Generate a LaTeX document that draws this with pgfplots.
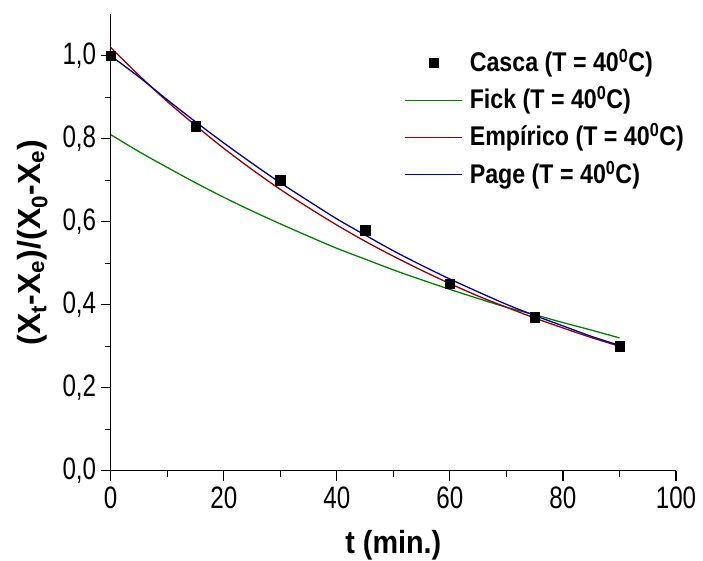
\documentclass[border=0pt]{standalone}
\usepackage{fontspec}
\setmainfont{Liberation Sans}
\newfontfamily\tickfont{Liberation Sans}[FakeStretch=0.78]
\newfontfamily\xlabfont{Liberation Sans}[FakeStretch=0.9]
\newfontfamily\ylabfont{Liberation Sans}
\newfontfamily\legfont{Liberation Sans}[FakeStretch=0.86]
\usepackage{pgfplots}
\pgfplotsset{compat=1.18}
\definecolor{cfick}{RGB}{0,128,0}
\definecolor{cemp}{RGB}{150,0,0}
\definecolor{cpage}{RGB}{0,0,160}
\begin{document}
\begin{tikzpicture}
\begin{axis}[
  scale only axis,
  width=565.3pt, height=456.4pt,
  xmin=0, xmax=100, ymin=0, ymax=1.1,
  axis lines*=left,
  axis line style={line width=1.2pt},
  xtick={0,20,40,60,80,100},
  ytick={0,0.2,0.4,0.6,0.8,1.0},
  minor x tick num=1, minor y tick num=1,
  tick align=outside,
  major tick length=10pt, minor tick length=6pt,
  every tick/.style={black, line width=1.2pt},
  /pgf/number format/assume math mode=true,
  yticklabel style={/pgf/number format/use comma, /pgf/number format/fixed, /pgf/number format/fixed zerofill, /pgf/number format/precision=1, xshift=-1pt},
  ticklabel style={font=\tickfont\fontsize{31}{36}\selectfont},
  xticklabel style={yshift=-3pt},
  xlabel={\xlabfont\bfseries t (min.)},
  xlabel style={font=\fontsize{32}{36}\selectfont, yshift=-14pt},
  ylabel={\ylabfont\bfseries (X\textsubscript{t}-X\textsubscript{e})/(X\textsubscript{0}-X\textsubscript{e})},
  ylabel style={font=\fontsize{32}{36}\selectfont, yshift=8pt},
  legend cell align=left,
  legend style={at={(0.519,0.921)}, anchor=north west, draw=none, fill=none,
    inner sep=0pt, outer sep=0pt, row sep=11.3pt, column sep=7pt,
    font=\legfont\bfseries\fontsize{27}{30}\selectfont,
    nodes={inner sep=0pt, text height=21pt, text depth=5pt}},
  legend image code/.code={\draw[mark repeat=2,mark phase=2] plot coordinates {(0pt,0.5pt) (28.7pt,0.5pt) (57.4pt,0.5pt)};},
]
\addplot[only marks, mark=square*, mark size=4.7pt, black] coordinates {
(0,1.0) (15,0.83) (30,0.70) (45,0.58) (60,0.45) (75,0.37) (90,0.30)};
\addlegendentry{Casca (T = 40\textsuperscript{0}C)}
\addplot[cfick, line width=1.3pt, smooth, no markers] coordinates {
(0,0.810) (5,0.769) (10,0.731) (15,0.694) (20,0.659) (25,0.626) (30,0.595)
(35,0.565) (40,0.536) (45,0.510) (50,0.484) (55,0.460) (60,0.437) (65,0.415)
(70,0.394) (75,0.376) (80,0.357) (85,0.339) (90,0.320)};
\addlegendentry{Fick (T = 40\textsuperscript{0}C)}
\addplot[cemp, line width=1.3pt, smooth, no markers] coordinates {
(0,1.020) (5,0.953) (10,0.890) (15,0.832) (20,0.777) (25,0.726) (30,0.678)
(35,0.634) (40,0.592) (45,0.553) (50,0.517) (55,0.483) (60,0.451) (65,0.421)
(70,0.394) (75,0.368) (80,0.344) (85,0.321) (90,0.300)};
\addlegendentry{Empírico (T = 40\textsuperscript{0}C)}
\addplot[cpage, line width=1.3pt, smooth, no markers] coordinates {
(0,1.000) (5,0.949) (10,0.894) (15,0.841) (20,0.790) (25,0.741) (30,0.694)
(35,0.650) (40,0.607) (45,0.568) (50,0.530) (55,0.495) (60,0.462) (65,0.431)
(70,0.401) (75,0.374) (80,0.349) (85,0.324) (90,0.302)};
\addlegendentry{Page (T = 40\textsuperscript{0}C)}
\end{axis}
\pgfresetboundingbox
\path[use as bounding box] (-110.7pt,-89.3pt) rectangle (592.3pt,470.7pt);
\end{tikzpicture}
\end{document}
